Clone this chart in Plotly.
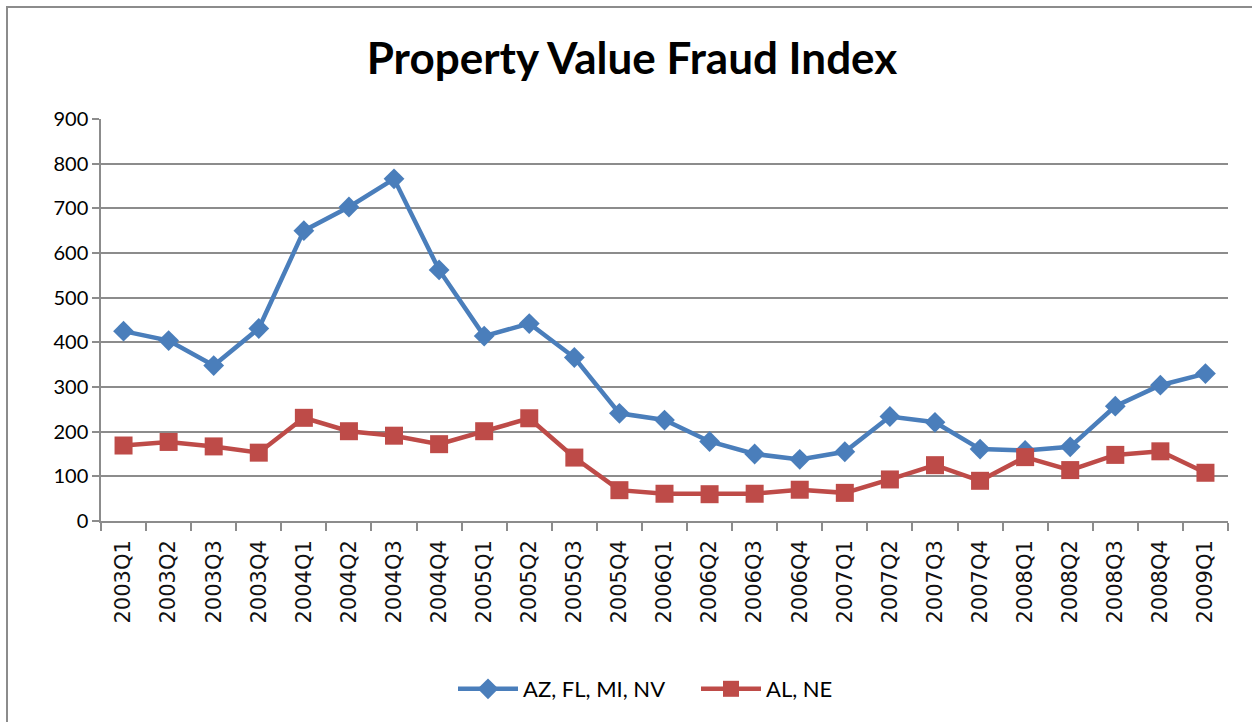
import plotly.graph_objects as go

quarters = ["2003Q1", "2003Q2", "2003Q3", "2003Q4", "2004Q1", "2004Q2", "2004Q3", "2004Q4",
            "2005Q1", "2005Q2", "2005Q3", "2005Q4", "2006Q1", "2006Q2", "2006Q3", "2006Q4",
            "2007Q1", "2007Q2", "2007Q3", "2007Q4", "2008Q1", "2008Q2", "2008Q3", "2008Q4",
            "2009Q1"]
az_fl_mi_nv = [425, 404, 348, 431, 650, 703, 766, 562, 414, 442, 366, 241, 226, 178, 150, 138,
               155, 234, 221, 161, 158, 166, 257, 304, 330]
al_ne = [169, 177, 167, 153, 231, 201, 191, 172, 201, 230, 142, 69, 61, 60, 61, 70,
         63, 93, 125, 90, 143, 114, 148, 156, 108]
series_names = ["AZ, FL, MI, NV", "AL, NE"]
y_ticks = [0, 100, 200, 300, 400, 500, 600, 700, 800, 900]

BLUE = "#4A7EBB"
RED = "#BE4B48"
GRID = "#8C8C8C"
FONT = "Lato, Calibri, sans-serif"

fig = go.Figure()
fig.add_trace(go.Scatter(
    x=quarters, y=az_fl_mi_nv, name=series_names[0], mode="lines+markers",
    line=dict(color=BLUE, width=4.5),
    marker=dict(symbol="diamond", size=16, color=BLUE),
))
fig.add_trace(go.Scatter(
    x=quarters, y=al_ne, name=series_names[1], mode="lines+markers",
    line=dict(color=RED, width=4.5),
    marker=dict(symbol="square", size=18, color=RED),
))

L, R, T, B = 101, 24, 119, 201
W, H = 1252, 722
pw, ph = W - L - R, H - T - B

fig.update_layout(
    width=W, height=H,
    margin=dict(l=L, r=R, t=T, b=B, pad=0),
    paper_bgcolor="white", plot_bgcolor="white",
    font=dict(family=FONT, color="black", size=19),
    title=dict(text="<b>Property Value Fraud Index</b>", x=632 / W, xanchor="center",
               y=1 - 59 / H, yanchor="middle", yref="container",
               font=dict(family=FONT, size=44, color="black")),
    showlegend=True,
    legend=dict(orientation="h", x=(453 - L) / pw, xanchor="left",
                y=(H - B - 689) / ph, yanchor="middle",
                font=dict(family=FONT, size=22, color="black"),
                bgcolor="rgba(0,0,0,0)", itemwidth=60, tracegroupgap=0,
                entrywidth=168, entrywidthmode="pixels"),
    xaxis=dict(
        type="category", range=[-0.5, len(quarters) - 0.5],
        showline=True, linecolor=GRID, linewidth=1.5,
        ticks="outside", tickson="boundaries", ticklen=8, tickcolor=GRID, tickwidth=1.5,
        tickangle=-90, showgrid=False, ticklabelstandoff=9,
        tickfont=dict(family="DejaVu Sans", size=21, color="#111111"),
    ),
    yaxis=dict(
        range=[0, 900], tickvals=y_ticks,
        showline=True, linecolor=GRID, linewidth=1.5,
        ticks="outside", ticklen=7, tickcolor=GRID, tickwidth=1.5,
        showgrid=True, gridcolor=GRID, gridwidth=1.5, zeroline=False,
        tickfont=dict(family=FONT, size=20, color="black"),
    ),
    shapes=[dict(type="rect", xref="paper", yref="paper",
                 x0=(7 - L) / pw, x1=(W + 20 - L) / pw,
                 y0=(H - B - (H + 20)) / ph, y1=(H - B - 7) / ph,
                 line=dict(color="#8C8C8C", width=2), fillcolor="rgba(0,0,0,0)", layer="below")],
)

fig.write_html("out.html", config={"displayModeBar": False},
               post_script="document.body.style.margin='0';")
